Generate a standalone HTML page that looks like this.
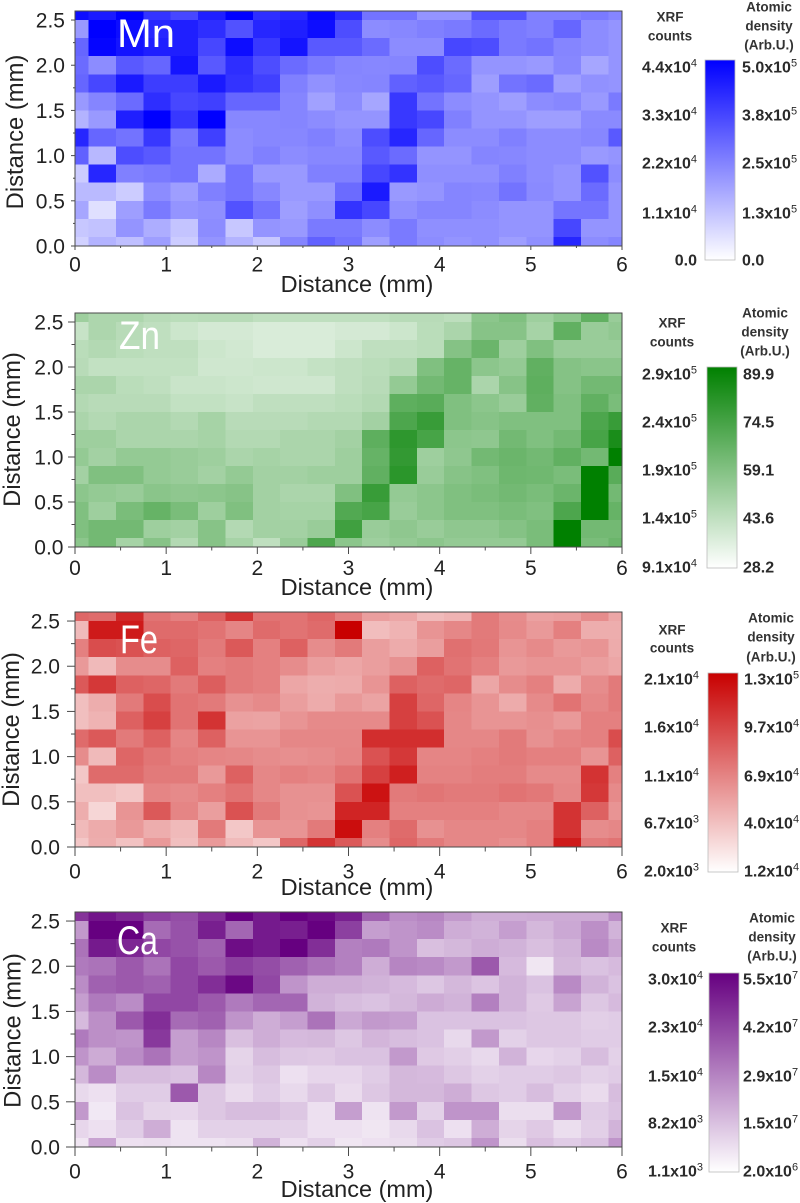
<!DOCTYPE html>
<html lang="en">
<head>
<meta charset="utf-8">
<title>XRF elemental maps</title>
<style>
html,body{margin:0;padding:0;background:#fff;}
svg{display:block;font-family:"Liberation Sans",sans-serif;filter:blur(0.35px);}
</style>
</head>
<body>
<svg id="figure" xmlns="http://www.w3.org/2000/svg" width="800" height="1203" viewBox="0 0 800 1203"></svg>
<script>
// Cell intensities in % of each colour-bar top, rows listed top (2.6 mm) to bottom (0 mm), columns 0 to 6 mm.
const mnValues = [
[95,90,100,80,72,88,100,82,85,97,82,55,55,42,42,68,68,50,50,52,48],
[40,100,95,85,88,82,68,85,88,95,70,45,47,50,52,58,52,50,60,45,42],
[60,98,92,88,88,72,95,78,92,65,65,58,45,45,72,70,52,55,48,45,42],
[58,45,65,60,92,65,82,70,58,52,48,47,48,70,58,42,42,40,47,35,42],
[60,72,90,76,76,90,80,75,50,43,47,48,62,65,60,38,55,58,38,43,42],
[40,48,58,82,72,75,60,60,48,37,45,35,78,55,45,42,38,45,47,40,52],
[30,40,88,100,78,100,47,47,48,45,42,42,78,72,50,42,42,38,38,46,46],
[85,60,55,78,53,75,45,47,47,50,45,70,85,60,45,45,50,45,45,47,65],
[62,28,70,65,55,55,45,50,45,47,47,65,58,42,42,48,47,45,45,40,42],
[20,85,50,52,55,33,55,40,40,50,50,72,80,44,44,44,50,45,42,68,45],
[27,27,20,45,38,50,55,47,40,40,58,90,40,42,48,47,55,46,42,58,42],
[35,12,38,52,42,44,68,55,38,44,80,72,44,48,48,45,42,42,54,54,42],
[22,24,42,32,23,45,22,42,40,52,52,45,52,44,44,44,42,42,72,42,42],
[18,30,25,38,20,42,30,22,48,62,55,38,52,45,42,44,38,44,85,45,48]
];
const znValues = [
[38,32,32,28,27,28,28,25,25,25,25,25,28,28,26,45,50,38,45,62,40],
[22,32,28,25,20,17,17,15,15,15,17,17,20,27,33,47,47,35,62,40,43],
[27,30,27,25,25,20,18,15,15,15,20,25,25,27,48,58,38,50,40,40,40],
[28,24,24,24,24,19,19,20,20,23,25,27,30,50,60,45,42,62,48,46,46],
[33,33,27,25,21,21,20,19,19,19,25,28,42,55,60,33,47,63,48,55,55],
[30,28,28,28,24,24,22,25,25,25,27,30,63,65,50,45,40,62,50,62,52],
[33,30,33,33,30,35,28,28,28,30,30,36,70,78,50,47,50,50,50,70,78],
[38,38,33,33,33,35,30,30,33,33,36,63,82,72,45,44,55,50,55,72,90],
[42,36,42,42,40,38,33,35,33,33,38,60,80,38,44,55,58,55,62,55,100],
[36,50,50,42,40,36,42,36,36,38,38,62,83,40,47,50,57,56,52,100,65],
[45,42,40,46,44,45,47,36,33,33,50,78,42,45,50,52,55,52,58,100,55],
[50,38,52,60,52,38,50,36,35,35,68,72,40,45,50,50,52,50,70,100,60],
[50,55,55,38,36,47,30,36,36,40,75,40,44,40,44,44,48,52,100,55,55],
[45,55,35,47,30,47,35,25,40,70,45,38,42,45,42,42,42,52,100,52,58]
];
const feValues = [
[60,58,85,55,50,62,80,55,55,60,50,38,35,27,30,52,45,37,38,45,35],
[27,90,90,58,58,55,48,58,55,58,100,26,30,42,47,52,46,40,50,32,32],
[50,70,68,62,60,52,65,50,62,45,52,38,33,38,56,53,42,46,40,42,33],
[40,27,45,45,62,50,52,50,45,38,35,38,43,62,55,50,40,42,42,38,35],
[65,78,62,60,52,63,52,50,35,32,33,42,62,58,60,35,45,50,33,45,52],
[25,32,52,70,55,52,43,46,38,33,40,36,75,60,48,42,33,46,55,47,52],
[25,30,62,75,55,80,37,36,42,46,46,46,75,68,47,42,42,44,40,50,50],
[58,65,52,62,48,62,42,42,47,47,47,82,82,82,47,47,52,43,48,50,70],
[45,27,60,54,50,48,47,45,44,45,48,68,78,48,48,50,52,50,50,42,62],
[22,58,58,52,52,40,62,47,50,48,55,75,88,49,49,51,51,46,46,80,50],
[25,25,22,48,46,50,55,47,43,43,68,93,52,54,52,52,55,53,47,78,46],
[32,16,42,65,48,38,68,52,43,42,86,86,50,50,50,50,47,47,80,62,42],
[27,33,40,32,27,52,22,42,42,52,95,50,58,43,47,47,47,50,80,45,47],
[22,32,24,40,25,40,27,22,60,80,65,45,60,52,47,47,44,50,90,52,55]
];
const caValues = [
[80,92,85,75,70,82,100,90,100,96,88,62,45,48,40,32,32,33,33,33,45],
[40,100,100,58,68,88,60,90,88,100,75,38,42,45,32,30,38,28,34,44,30],
[55,90,85,72,68,62,95,90,100,82,50,52,42,25,28,32,30,25,30,46,36],
[52,55,65,55,72,65,75,70,62,55,50,32,48,46,40,65,27,10,28,24,27],
[45,62,65,62,72,82,97,72,42,32,32,30,27,22,28,23,30,24,46,30,24],
[38,52,45,72,72,65,52,60,60,30,26,24,28,33,30,50,30,21,36,22,27],
[27,44,65,82,58,62,42,32,38,55,34,40,38,24,24,24,24,22,22,19,20],
[52,44,42,78,38,47,25,32,27,28,22,29,26,24,15,40,18,22,22,20,20],
[42,33,45,55,38,42,17,26,22,21,24,24,40,21,19,15,30,16,18,26,18],
[28,45,26,26,24,47,18,22,12,16,16,20,28,27,22,18,20,20,22,18,20],
[15,12,20,20,65,22,14,20,15,22,14,22,28,28,32,22,20,26,18,14,26],
[40,9,24,17,16,22,26,26,22,12,38,11,40,18,42,42,13,13,40,20,24],
[16,12,20,32,11,18,18,18,18,12,12,10,15,24,12,32,17,21,13,19,30],
[10,36,12,13,11,11,13,30,12,18,10,12,13,20,22,42,13,25,20,24,42]
];
const xTickLabels = ['0','1','2','3','4','5','6'];
const yTickLabels = ['0.0','0.5','1.0','1.5','2.0','2.5'];
const mnCountLabels = [['4.4','4'],['3.3','4'],['2.2','4'],['1.1','4'],['0.0','']];
const mnDensityLabels = [['5.0','5'],['3.8','5'],['2.5','5'],['1.3','5'],['0.0','']];
const znCountLabels = [['2.9','5'],['2.4','5'],['1.9','5'],['1.4','5'],['9.1','4']];
const znDensityLabels = [['89.9',''],['74.5',''],['59.1',''],['43.6',''],['28.2','']];
const feCountLabels = [['2.1','4'],['1.6','4'],['1.1','4'],['6.7','3'],['2.0','3']];
const feDensityLabels = [['1.3','5'],['9.7','4'],['6.9','4'],['4.0','4'],['1.2','4']];
const caCountLabels = [['3.0','4'],['2.3','4'],['1.5','4'],['8.2','3'],['1.1','3']];
const caDensityLabels = [['5.5','7'],['4.2','7'],['2.9','7'],['1.5','7'],['2.0','6']];

const NS = 'http://www.w3.org/2000/svg';
const fig = document.getElementById('figure');
const defs = document.createElementNS(NS, 'defs');
fig.appendChild(defs);

function make(tag, attrs, parent, text) {
  const el = document.createElementNS(NS, tag);
  for (const k in attrs) el.setAttribute(k, attrs[k]);
  if (text !== undefined) el.textContent = text;
  parent.appendChild(el);
  return el;
}

const panels = [
  {id:'mn', label:'Mn', values:mnValues, rgb:[0,0,255], top:11, bottom:246,
   labelX:117, labelY:47, labelLen:58,
   titleY:292, tickY:271.5, yLabelRight:65, yTickLen:4, xTickLen:4, yTitleX:23, yTitleCy:132,
   bar:{x:705,w:30,top:60,bottom:260}, counts:mnCountLabels, density:mnDensityLabels,
   leftX:697, rightX:742, xrfX:670, xrfY:[21.5,40.5], atomX:769, atomY:[11.5,30.5,49.5], labelYs:[67,115,163,213,260]},
  {id:'zn', label:'Zn', values:znValues, rgb:[0,128,0], top:313, bottom:547,
   labelX:119, labelY:349, labelLen:41,
   titleY:595, tickY:575, yLabelRight:63.5, yTickLen:7, xTickLen:7, yTitleX:20, yTitleCy:429.5,
   bar:{x:707,w:30,top:367,bottom:568}, counts:znCountLabels, density:znDensityLabels,
   leftX:697, rightX:743, xrfX:672, xrfY:[327.5,346.5], atomX:765, atomY:[317.5,336.5,355.5], labelYs:[374,422,470,518,567]},
  {id:'fe', label:'Fe', values:feValues, rgb:[200,0,0], top:612, bottom:847,
   labelX:120, labelY:653, labelLen:38,
   titleY:895, tickY:878.5, yLabelRight:60, yTickLen:8, xTickLen:9, yTitleX:19, yTitleCy:729.5,
   bar:{x:708,w:30,top:673,bottom:872}, counts:feCountLabels, density:feDensityLabels,
   leftX:699, rightX:744, xrfX:672, xrfY:[634.5,652.5], atomX:771, atomY:[622.5,641.5,661.5], labelYs:[679,727,776,823,871]},
  {id:'ca', label:'Ca', values:caValues, rgb:[102,0,128], top:912, bottom:1147,
   labelX:117, labelY:954, labelLen:41,
   titleY:1197, tickY:1178.5, yLabelRight:60, yTickLen:9, xTickLen:9, yTitleX:20.5, yTitleCy:1030.5,
   bar:{x:709,w:30,top:973,bottom:1172}, counts:caCountLabels, density:caDensityLabels,
   leftX:703, rightX:743, xrfX:674, xrfY:[932.5,951.5], atomX:772, atomY:[922.5,941.5,960.5], labelYs:[979,1027,1076,1123,1171]}
];

const xLeft = 75, xRight = 622, xMax = 6, yMax = 2.6;
const stepX = 0.3, stepY = 0.2;
const axisColor = '#4a4a4a', textColor = '#222';

function colorFor(rgb, v) {
  const t = Math.max(0, Math.min(1, v / 100));
  const c = rgb.map(function (ch) { return Math.round(255 + (ch - 255) * t); });
  return 'rgb(' + c.join(',') + ')';
}

function drawLegendLabel(g, x, y, anchor, pair, name) {
  const t = make('text', {x:x, y:y + 5.5, 'text-anchor':anchor, 'font-size':16, 'font-weight':'bold', fill:'#2a2a2a'}, g);
  
  
  if (pair[1]) {
    make('tspan', {}, t, pair[0] + 'x10');
    make('tspan', {'font-size':11, dy:-6, 'font-weight':'normal'}, t, pair[1]);
  } else {
    t.textContent = pair[0];
  }
}

panels.forEach(function (p) {
  const xs = function (v) { return xLeft + (xRight - xLeft) * v / xMax; };
  const ys = function (v) { return p.bottom - (p.bottom - p.top) * v / yMax; };

  const g = make('g', {}, fig);
  
  

  const cells = make('g', {'shape-rendering':'crispEdges'}, g);
  
  
  const nRows = p.values.length;
  p.values.forEach(function (row, ri) {
    const yVal = (nRows - 1 - ri) * stepY;
    const y0 = ys(Math.min(yMax, yVal + stepY / 2));
    const y1 = ys(Math.max(0, yVal - stepY / 2));
    row.forEach(function (v, ci) {
      const xVal = ci * stepX;
      const x0 = xs(Math.max(0, xVal - stepX / 2));
      const x1 = xs(Math.min(xMax, xVal + stepX / 2));
      const r = make('rect', {x:x0, y:y0, width:x1 - x0, height:y1 - y0, fill:colorFor(p.rgb, v)}, cells);
      
      
    });
  });

  const frame = make('rect', {x:xLeft, y:p.top, width:xRight - xLeft, height:p.bottom - p.top, fill:'none', stroke:axisColor, 'stroke-width':1}, g);
  
  

  const elementLabel = make('text', {x:p.labelX, y:p.labelY, fill:'#fff', 'font-size':40, textLength:p.labelLen, lengthAdjust:'spacingAndGlyphs'}, g, p.label);
  
  

  // x axis
  const xAxis = make('g', {}, g);
  
  
  for (let i = 0; i <= 12; i++) {
    const v = i * 0.5;
    const major = i % 2 === 0;
    make('line', {x1:xs(v), x2:xs(v), y1:p.bottom, y2:p.bottom + (major ? p.xTickLen : p.xTickLen / 2), stroke:axisColor, 'stroke-width':1}, xAxis);
  }
  xTickLabels.forEach(function (lab) {
    const tx = make('text', {x:xs(+lab), y:p.tickY, 'text-anchor':'middle', 'font-size':21, fill:textColor}, xAxis, lab);
    
    
  });
  const xTitle = make('text', {x:357, y:p.titleY, 'text-anchor':'middle', 'font-size':23.5, fill:textColor}, xAxis, 'Distance (mm)');
  
  

  // y axis
  const yAxis = make('g', {}, g);
  
  
  for (let i = 0; i <= 10; i++) {
    const v = i * 0.25;
    const major = i % 2 === 0;
    make('line', {x1:xLeft, x2:xLeft - (major ? p.yTickLen : p.yTickLen / 2), y1:ys(v), y2:ys(v), stroke:axisColor, 'stroke-width':1}, yAxis);
  }
  yTickLabels.forEach(function (lab) {
    const ty = make('text', {x:p.yLabelRight, y:ys(+lab) + 7.5, 'text-anchor':'end', 'font-size':21, fill:textColor}, yAxis, lab);
    
    
  });
  const yTitle = make('text', {x:0, y:0, 'text-anchor':'middle', 'font-size':23.8, fill:textColor, transform:'translate(' + p.yTitleX + ',' + p.yTitleCy + ') rotate(-90)'}, yAxis, 'Distance (mm)');
  
  

  // colour bar
  const gradId = p.id + '-grad';
  const grad = make('linearGradient', {id:gradId, x1:0, y1:0, x2:0, y2:1}, defs);
  make('stop', {offset:'0%', 'stop-color':colorFor(p.rgb, 100)}, grad);
  make('stop', {offset:'100%', 'stop-color':'#fff'}, grad);
  const legend = make('g', {}, g);
  
  
  const bar = make('rect', {x:p.bar.x, y:p.bar.top, width:p.bar.w, height:p.bar.bottom - p.bar.top, fill:'url(#' + gradId + ')', stroke:'#bbb', 'stroke-width':0.8}, legend);
  
  

  p.counts.forEach(function (pair, i) {
    drawLegendLabel(legend, p.leftX, p.labelYs[i], 'end', pair, p.id + '-xrf-count-label');
  });
  p.density.forEach(function (pair, i) {
    drawLegendLabel(legend, p.rightX, p.labelYs[i], 'start', pair, p.id + '-density-label');
  });

  ['XRF', 'counts'].forEach(function (s, i) {
    const h = make('text', {x:p.xrfX, y:p.xrfY[i], 'text-anchor':'middle', 'font-size':13.5, 'font-weight':'bold', fill:'#333'}, legend, s);
    
    
  });
  ['Atomic', 'density', '(Arb.U.)'].forEach(function (s, i) {
    const h = make('text', {x:p.atomX, y:p.atomY[i], 'text-anchor':'middle', 'font-size':13.5, 'font-weight':'bold', fill:'#333'}, legend, s);
    
    
  });
});
</script>
</body>
</html>
